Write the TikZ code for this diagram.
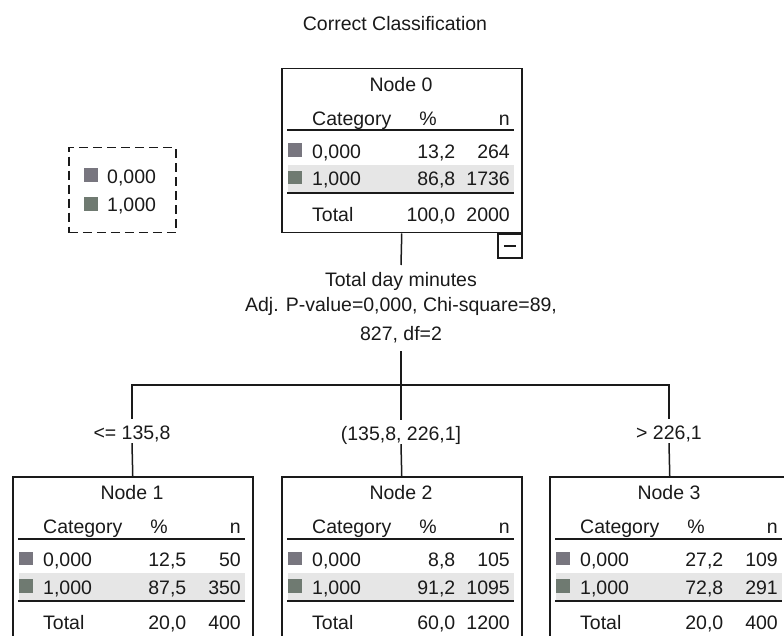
\documentclass[tikz,border=0pt]{standalone}
\usepackage{fontspec}
\setmainfont{Liberation Sans}
\usetikzlibrary{calc}
\definecolor{sqA}{HTML}{78767F}
\definecolor{sqB}{HTML}{6F7A71}
\definecolor{bandc}{HTML}{E6E6E6}
\definecolor{ink}{HTML}{1A1A1A}
\tikzset{
  txt/.style={inner sep=0pt, text=ink, font=\fontsize{19.5}{25}\selectfont},
  box/.style={draw=ink, line width=1.5pt, minimum width=240pt, minimum height=164pt, inner sep=0pt},
  rulel/.style={draw=ink, line width=2pt},
  conn/.style={draw=ink, line width=1.5pt},
  lab/.style={txt, anchor=base, text height=16pt, text depth=0pt, inner ysep=4pt},
}
\newcommand{\treenode}[9]{%
  \begin{scope}[shift={(#2,-#3)}]
    \fill[bandc] (7,-97) rectangle (233,-124);
    \node[box, anchor=north west] (n#1) at (0,0) {};
    \node[txt, anchor=base] (n#1-t) at (120,-23.5) {Node #1};
    \node[txt, anchor=base west] (n#1-h1) at (31,-57.5) {Category};
    \node[txt, anchor=base] (n#1-h2) at (147,-57.5) {\%};
    \node[txt, anchor=base east] (n#1-h3) at (229,-57.5) {n};
    \draw[rulel] (6,-62.5) -- (233,-62.5);
    \fill[sqA] (7,-89) rectangle (20.5,-75.5);
    \node[txt, anchor=base west] (n#1-a1) at (31,-90.5) {0,000};
    \node[txt, anchor=base east] (n#1-a2) at (174.5,-90.5) {#4};
    \node[txt, anchor=base east] (n#1-a3) at (229,-90.5) {#5};
    \fill[sqB] (7,-116.5) rectangle (20.5,-103);
    \node[txt, anchor=base west] (n#1-b1) at (31,-118) {1,000};
    \node[txt, anchor=base east] (n#1-b2) at (174.5,-118) {#6};
    \node[txt, anchor=base east] (n#1-b3) at (229,-118) {#7};
    \draw[rulel] (6,-125) -- (233,-125);
    \node[txt, anchor=base west] (n#1-c1) at (31,-153.5) {Total};
    \node[txt, anchor=base east] (n#1-c2) at (174.5,-153.5) {#8};
    \node[txt, anchor=base east] (n#1-c3) at (229,-153.5) {#9};
  \end{scope}}
\begin{document}
\begin{tikzpicture}[x=1pt,y=1pt]
  \useasboundingbox (0,0) rectangle (784,-636);
  \clip (0,0) rectangle (784,-636);
  \fill[white] (0,0) rectangle (784,-636);

  \node[txt, anchor=base] (title) at (395,-31) {Correct Classification};

  % legend
  \node[draw=ink, line width=1.5pt, dash pattern=on 9pt off 5pt, minimum width=107pt, minimum height=85pt, inner sep=0pt, anchor=north west] (leg) at (68,-147) {};
  \fill[sqA] (84,-182) rectangle (98,-168);
  \node[txt, anchor=base west] (leg-a) at (107,-184) {0,000};
  \fill[sqB] (84,-211) rectangle (98,-197);
  \node[txt, anchor=base west] (leg-b) at (107,-212) {1,000};

  % nodes
  \treenode{0}{281}{68}{13,2}{264}{86,8}{1736}{100,0}{2000}
  \treenode{1}{12}{476}{12,5}{50}{87,5}{350}{20,0}{400}
  \treenode{2}{281}{476}{8,8}{105}{91,2}{1095}{60,0}{1200}
  \treenode{3}{549}{476}{27,2}{109}{72,8}{291}{20,0}{400}

  % collapse box
  \node[draw=ink, line width=1.3pt, minimum size=24pt, inner sep=0pt, anchor=north east] (col) at (n0.south east) {};
  \draw[ink, line width=1.5pt] ($(col.center)+(-6,0)$) -- ($(col.center)+(6,0)$);

  % split statistics
  \node[txt, align=center, anchor=north, inner ysep=7.5pt, inner xsep=0pt] (stat) at (401,-265)
    {Total day minutes\\Adj. P-value=0,000, Chi-square=89,\\[4pt]827, df=2};

  % branch labels
  \node[lab] (l1) at (132,-439) {<= 135,8};
  \node[lab] (l2) at (401,-440) {(135,8, 226,1]};
  \node[lab] (l3) at (669,-439) {> 226,1};

  \coordinate (hub) at (401,-385);
  \draw[conn] (n0.south) -- (stat.north);
  \draw[conn] (stat.south) -- (l2.north);
  \draw[conn] (l1.north) |- (hub) -| (l3.north);
  \draw[conn] (l1.south) -- (n1.north);
  \draw[conn] (l2.south) -- (n2.north);
  \draw[conn] (l3.south) -- (n3.north);
\end{tikzpicture}
\end{document}
